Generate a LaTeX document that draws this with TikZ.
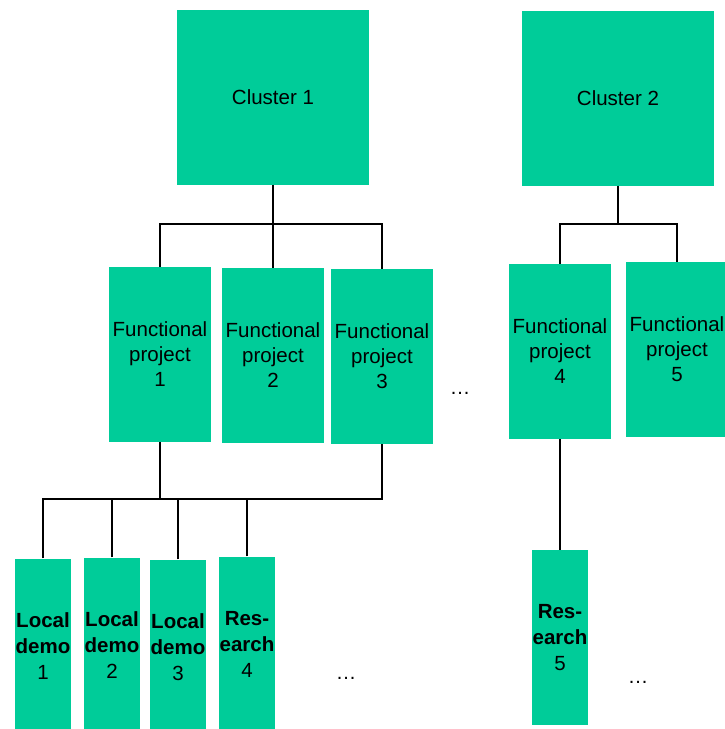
\documentclass[tikz,border=0pt]{standalone}
\usepackage{fontspec}
\setmainfont{Liberation Sans}
\usepackage{tikz}
\definecolor{boxgreen}{HTML}{00CC99}

\tikzset{
  box/.style={fill=boxgreen,inner sep=0pt,align=center,font=\fontsize{20.5}{25}\selectfont},
  cluster/.style={box,minimum width=192pt,minimum height=175pt},
  project/.style={box,minimum width=102pt,minimum height=175pt},
  leaf/.style={box,minimum width=56pt,minimum height=175pt,font=\fontsize{20.5}{26}\selectfont},
  link/.style={line width=2.8pt},
  more/.style={anchor=base,font=\fontsize{20.5}{25}\selectfont}
}

\begin{document}
\begin{tikzpicture}[x=1pt,y=-1pt]
\useasboundingbox (0,0) rectangle (725,729);
\node[cluster] (c1) at (273,97) {Cluster 1};
\node[cluster] (c2) at (618,98) {Cluster 2};
\node[project] (fp1) at (160,354.5) {Functional\\project\\1};
\node[project] (fp2) at (273,355.5) {Functional\\project\\2};
\node[project] (fp3) at (382,356.5) {Functional\\project\\3};
\node[project] (fp4) at (560,351.5) {Functional\\project\\4};
\node[project] (fp5) at (677,349.5) {Functional\\project\\5};
\node[leaf] (ld1) at (43,646) {\textbf{Local}\\\textbf{demo}\\1};
\node[leaf] (ld2) at (112,645) {\textbf{Local}\\\textbf{demo}\\2};
\node[leaf] (ld3) at (178,647) {\textbf{Local}\\\textbf{demo}\\3};
\node[leaf] (rs4) at (247,644) {\textbf{Res-}\\\textbf{earch}\\4};
\node[leaf] (rs5) at (560,637.5) {\textbf{Res-}\\\textbf{earch}\\5};
\node[more] (m1) at (460,394) {…};
\node[more] (m2) at (346,679) {…};
\node[more] (m3) at (638,683) {…};
% cluster 1
\coordinate (b1) at (273,224);
\draw[link] (c1.south) -- (b1) -- (fp2.north);
\draw[link] (fp1.north) |- (b1) -| (fp3.north);
% cluster 2
\coordinate (b2) at (618,224);
\draw[link] (c2.south) -- (b2);
\draw[link] (fp4.north) |- (b2) -| (fp5.north);
% leaves
\coordinate (b3) at (160,499);
\draw[link] (fp1.south) -- (b3);
\draw[link] (fp3.south) |- (b3);
\draw[link] (ld1.north) |- (b3);
\draw[link] (ld2.north) |- (b3);
\draw[link] (ld3.north) |- (b3);
\draw[link] (rs4.north) |- (b3);
\draw[link] (fp4.south) -- (rs5.north);
\end{tikzpicture}
\end{document}
